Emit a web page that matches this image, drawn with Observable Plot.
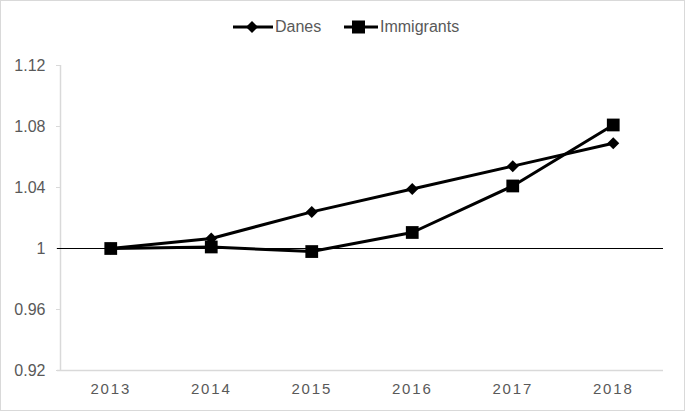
<!DOCTYPE html>
<html>
<head>
<meta charset="utf-8">
<script src="https://cdn.jsdelivr.net/npm/d3@7"></script>
<script src="https://cdn.jsdelivr.net/npm/@observablehq/plot@0.6"></script>
<style>
  body { margin: 0; background: #fff; }
  #wrap { position: relative; width: 685px; height: 411px; font-family: "Liberation Sans", Arial, sans-serif; overflow: hidden; }
  #border { position: absolute; left: 0; top: 0; width: 683px; height: 409px; border: 1px solid #d9d9d9; pointer-events: none; }
  #legend { position: relative; height: 45px; }
  .item { position: absolute; top: 17px; display: flex; align-items: center; font-size: 16px; color: #595959; }
  .item svg { margin-right: 2px; }
  #chart svg { display: block; }
</style>
</head>
<body>
<div id="wrap">
  <div id="legend">
    <div class="item" style="left:233px"><svg width="40" height="20"><line x1="0" y1="10" x2="40" y2="10" stroke="#000" stroke-width="3"/><path d="M19,4L25,10L19,16L13,10Z" fill="#000"/></svg><span>Danes</span></div>
    <div class="item" style="left:344px"><svg width="34" height="20"><line x1="0" y1="10" x2="34" y2="10" stroke="#000" stroke-width="3"/><rect x="8" y="3.5" width="13" height="13" fill="#000"/></svg><span>Immigrants</span></div>
  </div>
  <div id="chart"></div>
  <div id="border"></div>
</div>
<script>
const years = [2013, 2014, 2015, 2016, 2017, 2018];
const danes = [1.000, 1.0066, 1.024, 1.039, 1.054, 1.069];
const immigrants = [1.000, 1.001, 0.998, 1.0105, 1.041, 1.081];
const yTicks = [0.92, 0.96, 1.00, 1.04, 1.08, 1.12];

const data = [
  ...years.map((y, i) => ({year: y, value: danes[i], series: "Danes"})),
  ...years.map((y, i) => ({year: y, value: immigrants[i], series: "Immigrants"}))
];

const chart = Plot.plot({
  width: 685,
  height: 366,
  marginTop: 20,
  marginBottom: 41,
  marginLeft: 60,
  marginRight: 22,
  style: {fontFamily: "'Liberation Sans', Arial, sans-serif", background: "transparent"},
  x: {domain: [2012.5, 2018.5]},
  y: {domain: [0.92, 1.12]},
  marks: [
    Plot.ruleX([2012.5], {stroke: "#d9d9d9", strokeWidth: 1.5}),
    Plot.ruleY([0.92], {stroke: "#d9d9d9", strokeWidth: 1.5, x1: 2012.47, x2: 2018.5}),
    Plot.axisY({ticks: yTicks, tickFormat: d => String(+d.toFixed(2)), tickSize: 4, tickPadding: 11, stroke: "#d9d9d9", fill: "#595959", fontSize: 16, label: null}),
    Plot.axisX({ticks: years, tickFormat: d => String(d), tickSize: 0, tickPadding: 13, fill: "#595959", fontSize: 15, label: null}),
    Plot.ruleY([1], {stroke: "#000", strokeWidth: 1, x1: 2012.47, x2: 2018.5}),
    Plot.line(data, {x: "year", y: "value", z: "series", stroke: "#000", strokeWidth: 3}),
    Plot.dot(data.filter(d => d.series === "Danes"), {x: "year", y: "value", symbol: "diamond2", r: 5.4, fill: "#000"}),
    Plot.dot(data.filter(d => d.series === "Immigrants"), {x: "year", y: "value", symbol: "square", r: 7.2, fill: "#000"})
  ]
});
chart.querySelectorAll('[aria-label="x-axis tick label"] text').forEach(t => {
  t.setAttribute("letter-spacing", "1.8");
});
document.getElementById("chart").appendChild(chart);
</script>
</body>
</html>
